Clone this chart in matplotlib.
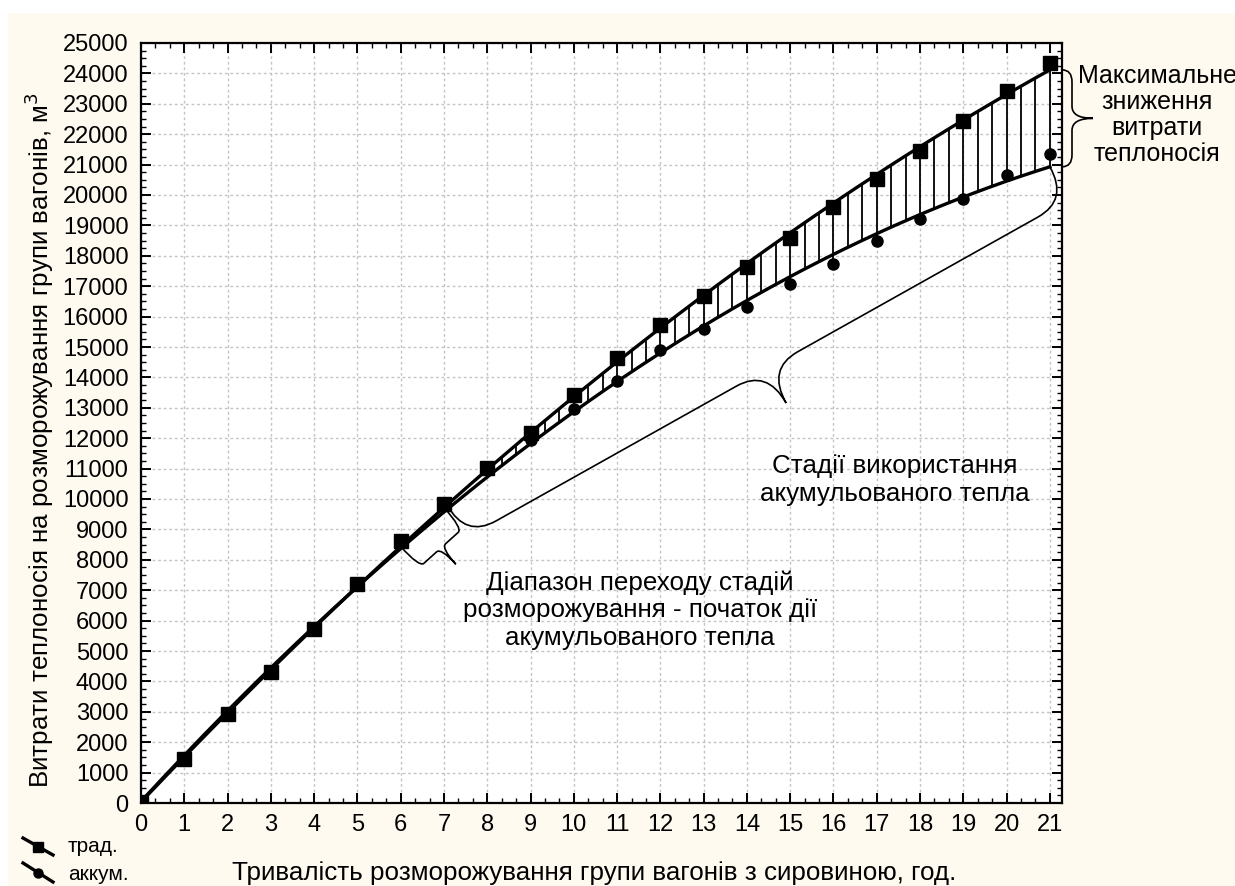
import matplotlib
matplotlib.use("Agg")
import matplotlib.pyplot as plt
import numpy as np
from matplotlib.lines import Line2D
from matplotlib.patches import PathPatch, Rectangle
from matplotlib.path import Path
from matplotlib.ticker import MultipleLocator

plt.rcParams["font.family"] = ["Liberation Sans", "DejaVu Sans"]

# duration of defrosting, h
hours = np.arange(0, 22)
# traditional scheme (squares)
trad = [0, 1437, 2917, 4320, 5740, 7194, 8618, 9825, 11030, 12160, 13421,
        14627, 15724, 16688, 17621, 18575, 19595, 20526, 21447, 22444,
        23431, 24352]
# with accumulated heat (circles)
accum = [0, 1437, 2917, 4320, 5740, 7194, 8618, 9825, 11030, 11941, 12950,
         13891, 14901, 15581, 16326, 17062, 17730, 18497, 19200, 19858,
         20658, 21349]

BG = "#fefaf0"
FS = 18.7

fig = plt.figure(figsize=(12.35, 8.86), dpi=100, facecolor="white")
fig.add_artist(Rectangle((8 / 1235, 0), 1, 1 - 13 / 886, transform=fig.transFigure,
                         facecolor=BG, edgecolor="none", zorder=-10))
ax = fig.add_axes([141 / 1235, 83 / 886, 921 / 1235, 760 / 886])
ax.set_facecolor("white")
ax.set_xlim(0, 21.28)
ax.set_ylim(0, 25000)

# quadratic fits
t = np.linspace(0, 21, 400)
up_fit = np.poly1d(np.polyfit(hours, trad, 2))
lo_fit = np.poly1d(np.polyfit(hours, accum, 2))

# vertical hatching between the curves
hx = np.arange(8, 21.001, 1 / 3)
for xv in hx:
    top = up_fit(xv)
    bot = lo_fit(xv)
    if abs(xv - round(xv)) < 1e-6:
        i = int(round(xv))
        top = max(top, trad[i])
        bot = min(bot, accum[i])
    ax.plot([xv, xv], [bot, top], color="black", lw=1.3, zorder=3)

ax.plot(t, up_fit(t), color="black", lw=2.4, zorder=4)
ax.plot(t, lo_fit(t), color="black", lw=2.4, zorder=4)
ax.plot(hours, accum, "o", color="black", ms=8, zorder=5)
ax.plot(hours, trad, "s", color="black", ms=9.5, zorder=6)

ax.xaxis.set_major_locator(MultipleLocator(1))
ax.xaxis.set_minor_locator(MultipleLocator(1 / 3))
ax.yaxis.set_major_locator(MultipleLocator(1000))
ax.yaxis.set_minor_locator(MultipleLocator(250))
ax.tick_params(which="both", direction="in", top=True, right=True, labelsize=17)
ax.tick_params(which="major", length=7, width=1.4)
ax.tick_params(which="minor", length=3.5, width=1)
ax.tick_params(axis="x", pad=8)
ax.tick_params(axis="y", pad=9)
ax.grid(True, which="major", color="#c4c4c4", linestyle=(0, (2, 2)), linewidth=1)
ax.set_axisbelow(True)
for sp in ax.spines.values():
    sp.set_linewidth(1.6)

ax.set_xlabel("Тривалість розморожування групи вагонів з сировиною, год.", fontsize=FS, va="center")
ax.set_ylabel("Витрати теплоносія на розморожування групи вагонів, м$^3$", fontsize=FS, va="center")
ax.xaxis.set_label_coords(0.492, -0.092)
ax.yaxis.set_label_coords(-0.11, 0.478)


def brace(p1, p2, depth, arm, r, sign=1, lw=1.2):
    """Curly brace between two data points, sizes in pixels."""
    a = ax.transData.transform(p1)
    b = ax.transData.transform(p2)
    u = (b - a) / np.hypot(*(b - a))
    n = sign * np.array([-u[1], u[0]])
    m = (a + b) / 2
    tip = m + n * depth
    verts = [a, a + n * arm, a + n * arm + u * r,
             m + n * arm - u * r, m + n * arm, tip,
             m + n * arm, m + n * arm + u * r,
             b + n * arm - u * r, b + n * arm, b]
    codes = [Path.MOVETO, Path.CURVE3, Path.CURVE3,
             Path.LINETO, Path.CURVE3, Path.CURVE3,
             Path.CURVE3, Path.CURVE3,
             Path.LINETO, Path.CURVE3, Path.CURVE3]
    verts = ax.transData.inverted().transform(np.array(verts))
    ax.add_patch(PathPatch(Path(verts, codes), facecolor="none", edgecolor="black",
                           lw=lw, clip_on=False, zorder=7))


brace((7, up_fit(7)), (6, up_fit(6)), 50, 28, 6, sign=1)
brace((7.07, up_fit(7.07)), (21, lo_fit(21)), 77, 38, 35, sign=-1)
brace((21.28, up_fit(21)), (21.28, lo_fit(21)), 31, 10, 12, sign=1)

ax.text(11.53, 6349, "Діапазон переходу стадій\nрозморожування - початок дії\nакумульованого тепла",
        ha="center", va="center", fontsize=FS, linespacing=1.18)
ax.text(17.42, 10625, "Стадії використання\nакумульованого тепла",
        ha="center", va="center", fontsize=FS, linespacing=1.18)
fig.text(1157 / 1235, 1 - 115 / 886, "Максимальне\nзниження\nвитрати\nтеплоносія",
         ha="center", va="center", fontsize=18, linespacing=1.12)

# legend
for (x0, y0, x1, y1), mk, ms, label, ty in [
    ((23, 838, 53, 855), "s", 7, "трад.", 847),
    ((23, 863, 53, 882), "o", 6.5, "аккум.", 875),
]:
    fig.add_artist(Line2D([x0 / 1235, x1 / 1235], [1 - y0 / 886, 1 - y1 / 886],
                          transform=fig.transFigure, color="black", lw=2.4))
    fig.add_artist(Line2D([(x0 + x1) / 2 / 1235], [1 - (y0 + y1) / 2 / 886],
                          transform=fig.transFigure, color="black", marker=mk, ms=ms))
    fig.text(68 / 1235, 1 - ty / 886, label, ha="left", va="center", fontsize=15)

fig.savefig("out.png", dpi=100, facecolor="white")
